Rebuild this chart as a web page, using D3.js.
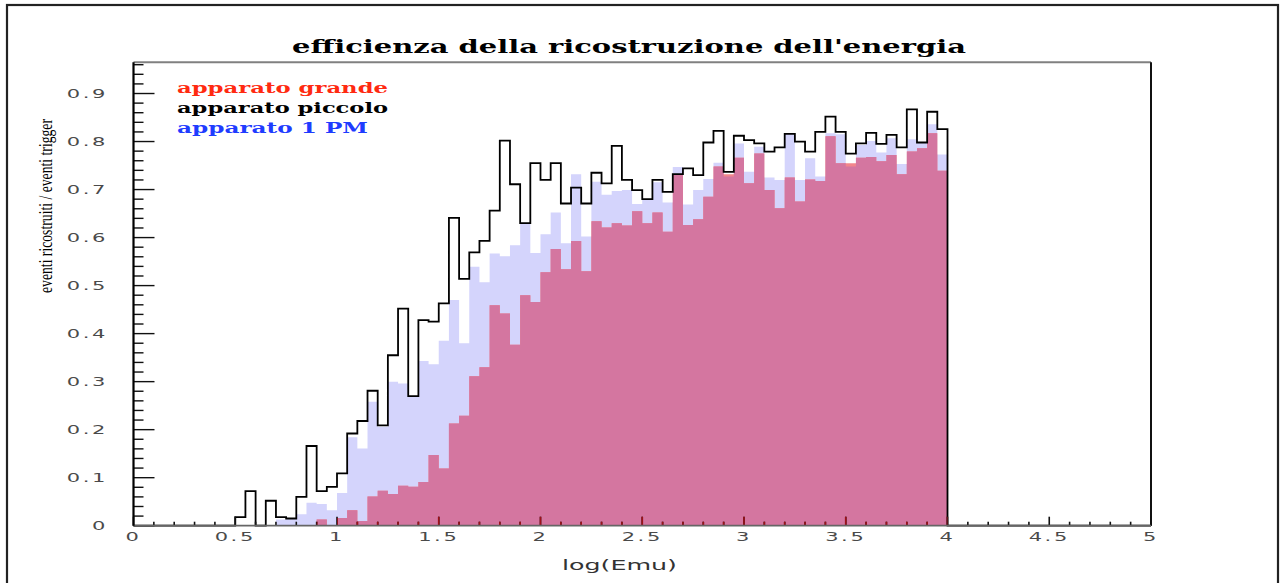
<!DOCTYPE html>
<html>
<head>
<meta charset="utf-8">
<script src="https://cdn.jsdelivr.net/npm/d3@7"></script>
<style>
  html, body { margin: 0; padding: 0; background: #fff; }
  svg { display: block; }
</style>
</head>
<body>
<svg id="chart" width="1281" height="583"></svg>
<script>
// Histogram binning: 70 bins of width 0.05 starting at log(Emu) = 0.5
const binStart = 0.5;
const binWidth = 0.05;

// apparato piccolo (black outline)
const piccolo = [0.018,0.072,0,0.052,0.018,0.015,0.060,0.166,0.072,0.081,
  0.109,0.192,0.218,0.281,0.209,0.355,0.452,0.270,0.428,0.425,
  0.463,0.641,0.514,0.569,0.593,0.656,0.802,0.711,0.630,0.755,
  0.720,0.755,0.671,0.704,0.671,0.735,0.713,0.791,0.720,0.699,
  0.680,0.720,0.695,0.732,0.744,0.730,0.798,0.822,0.737,0.812,
  0.803,0.796,0.779,0.788,0.816,0.800,0.779,0.820,0.852,0.820,
  0.775,0.796,0.818,0.795,0.814,0.788,0.867,0.798,0.862,0.826];

// apparato 1 PM (light blue fill)
const unPM = [0,0,0,0,0.013,0.016,0.024,0.048,0.045,0.032,
  0.068,0.184,0.161,0.258,0.206,0.300,0.296,0.270,0.343,0.336,
  0.385,0.470,0.380,0.539,0.507,0.567,0.561,0.584,0.630,0.568,
  0.607,0.652,0.588,0.732,0.602,0.716,0.689,0.697,0.699,0.670,
  0.680,0.715,0.673,0.747,0.669,0.699,0.722,0.756,0.727,0.796,
  0.737,0.789,0.725,0.720,0.818,0.720,0.765,0.727,0.817,0.815,
  0.748,0.793,0.801,0.777,0.807,0.753,0.805,0.798,0.836,0.773];

// apparato grande (red, translucent fill)
const grande = [0,0,0,0,0,0,0,0,0.013,0,
  0.016,0.032,0.010,0.061,0.073,0.066,0.083,0.081,0.091,0.147,
  0.119,0.213,0.229,0.311,0.330,0.459,0.442,0.377,0.480,0.466,
  0.528,0.576,0.534,0.593,0.530,0.634,0.621,0.630,0.625,0.655,
  0.630,0.652,0.612,0.732,0.626,0.638,0.685,0.748,0.732,0.766,
  0.713,0.775,0.699,0.661,0.725,0.675,0.721,0.718,0.811,0.755,
  0.755,0.766,0.768,0.759,0.772,0.732,0.779,0.786,0.817,0.739];

const xTickLabels = ["0","0.5","1","1.5","2","2.5","3","3.5","4","4.5","5"];
const yTickLabels = ["0","0.1","0.2","0.3","0.4","0.5","0.6","0.7","0.8","0.9"];

const legendItems = [
  { label: "apparato grande",  color: "#ff2a10", len: 211 },
  { label: "apparato piccolo", color: "#000000", len: 211 },
  { label: "apparato 1 PM",    color: "#1f3cff", len: 191 }
];

const svg = d3.select("#chart");

const plot = { left: 133.5, right: 1151, top: 62.3, bottom: 525.7 };
const x = d3.scaleLinear().domain([0, 5]).range([plot.left, plot.right]);
const y = d3.scaleLinear().domain([0, 0.965]).range([plot.bottom, plot.top]);

// outer page border
svg.append("rect")
  .attr("x", 7).attr("y", 5).attr("width", 1271).attr("height", 600)
  .attr("fill", "none").attr("stroke", "#222").attr("stroke-width", 2.2);

// title
svg.append("text")
  .attr("x", 292).attr("y", 53)
  .attr("textLength", 674).attr("lengthAdjust", "spacingAndGlyphs")
  .style("font-family", "'DejaVu Serif', 'Liberation Serif', serif")
  .style("font-weight", "bold").style("font-size", "18px")
  .attr("fill", "#000")
  .text("efficienza della ricostruzione dell'energia");

// step-histogram outline points for a series
function stepPoints(values) {
  const pts = [[binStart, 0]];
  values.forEach((v, i) => {
    const lo = binStart + i * binWidth;
    pts.push([lo, v], [lo + binWidth, v]);
  });
  pts.push([binStart + values.length * binWidth, 0]);
  return pts;
}

const area = d3.area()
  .x(d => x(d[0])).y0(y(0)).y1(d => y(d[1]));
const line = d3.line()
  .x(d => x(d[0])).y(d => y(d[1]));

const defs = svg.append("defs");
defs.append("clipPath").attr("id", "clipPM")
  .append("path").attr("d", area(stepPoints(unPM)));
defs.append("clipPath").attr("id", "clipGrande")
  .append("path").attr("d", area(stepPoints(grande)));

// 1 PM fill
svg.append("path")
  .attr("d", area(stepPoints(unPM)))
  .attr("fill", "#d4d4fc");

// grande fill: salmon over white, mauve where it overlaps the 1 PM fill
svg.append("path")
  .attr("d", area(stepPoints(grande)))
  .attr("fill", "#f2868c");
svg.append("path")
  .attr("d", area(stepPoints(grande)))
  .attr("clip-path", "url(#clipPM)")
  .attr("fill", "#d476a0");

// piccolo outline
const picPts = [[0, 0]].concat(stepPoints(piccolo), [[5, 0]]);
svg.append("path")
  .attr("d", line(picPts))
  .attr("fill", "none").attr("stroke", "#000")
  .attr("stroke-width", 1.8).attr("stroke-linejoin", "miter");

// frame
svg.append("line").attr("x1", plot.left).attr("x2", plot.right)
  .attr("y1", plot.top).attr("y2", plot.top)
  .attr("stroke", "#808080").attr("stroke-width", 2);
svg.append("line").attr("x1", plot.right).attr("x2", plot.right)
  .attr("y1", plot.top).attr("y2", plot.bottom)
  .attr("stroke", "#111").attr("stroke-width", 2);

// axes ticks (drawn inward)
function drawTicks(g, color) {
  // x: major every 0.5, minor every 0.1
  d3.range(0, 51).forEach(i => {
    const v = i / 10;
    const major = i % 5 === 0;
    g.append("line")
      .attr("x1", x(v)).attr("x2", x(v))
      .attr("y1", plot.bottom).attr("y2", plot.bottom - (major ? 9 : 4))
      .attr("stroke", color).attr("stroke-width", 1.6);
  });
  // y: major every 0.1, minor every 0.02
  d3.range(0, 49).forEach(i => {
    const v = i * 0.02;
    if (v > 0.965) return;
    const major = i % 5 === 0;
    g.append("line")
      .attr("x1", plot.left).attr("x2", plot.left + (major ? 21 : 10))
      .attr("y1", y(v)).attr("y2", y(v))
      .attr("stroke", color).attr("stroke-width", 1.4);
  });
}
drawTicks(svg.append("g"), "#111");
drawTicks(svg.append("g").attr("clip-path", "url(#clipGrande)"), "#a01018");

// axis lines
svg.append("line").attr("x1", plot.left).attr("x2", plot.right)
  .attr("y1", plot.bottom).attr("y2", plot.bottom)
  .attr("stroke", "#666").attr("stroke-width", 1.8);
svg.append("line").attr("x1", plot.left).attr("x2", plot.left)
  .attr("y1", plot.top).attr("y2", plot.bottom)
  .attr("stroke", "#000").attr("stroke-width", 2.2);

// tick labels
const tickFont = "'DejaVu Sans', 'Liberation Sans', sans-serif";
xTickLabels.forEach((t, i) => {
  svg.append("g")
    .attr("transform", `translate(${x(i * 0.5)},540.5) scale(1.75,1)`)
    .append("text")
    .attr("text-anchor", "middle")
    .style("font-family", tickFont).style("font-size", "12px")
    .style("letter-spacing", "1.5px")
    .attr("fill", "#4a4a4a")
    .text(t);
});
yTickLabels.forEach((t, i) => {
  svg.append("g")
    .attr("transform", `translate(108,${y(i * 0.1) + 4.4}) scale(1.75,1)`)
    .append("text")
    .attr("text-anchor", "end")
    .style("font-family", tickFont).style("font-size", "12px")
    .style("letter-spacing", "1.5px")
    .attr("fill", "#4a4a4a")
    .text(t);
});

// axis titles
svg.append("text")
  .attr("x", 562).attr("y", 570)
  .attr("textLength", 115).attr("lengthAdjust", "spacingAndGlyphs")
  .style("font-family", tickFont).style("font-size", "14px")
  .attr("fill", "#333")
  .text("log(Emu)");

svg.append("text")
  .attr("transform", "translate(52,293) rotate(-90)")
  .attr("textLength", 174).attr("lengthAdjust", "spacingAndGlyphs")
  .style("font-family", "'Liberation Serif', serif").style("font-size", "19px")
  .attr("fill", "#000")
  .text("eventi ricostruiti / eventi trigger");

// legend
legendItems.forEach((d, i) => {
  svg.append("text")
    .attr("x", 177).attr("y", 92.5 + i * 20)
    .attr("textLength", d.len).attr("lengthAdjust", "spacingAndGlyphs")
    .style("font-family", "'DejaVu Serif', 'Liberation Serif', serif")
    .style("font-weight", "bold").style("font-size", "14px")
    .attr("fill", d.color)
    .text(d.label);
});
</script>
</body>
</html>
